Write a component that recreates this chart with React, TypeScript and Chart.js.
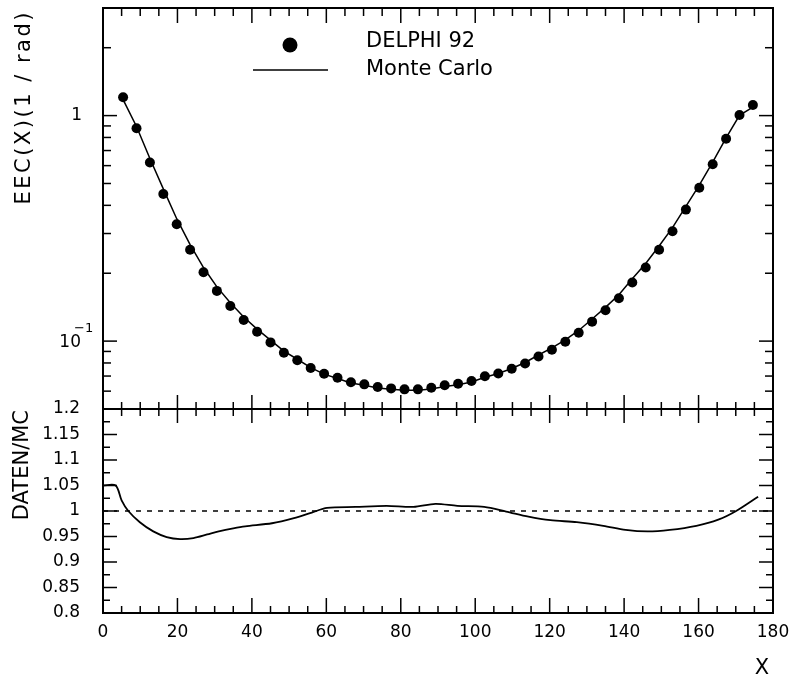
import React, { useEffect, useRef } from 'react';
import { Chart, registerables } from 'chart.js';

Chart.register(...registerables);

const FONT = '"DejaVu Sans", "Liberation Sans", sans-serif';

// ---- data ----
const xData = [5.4, 9.0, 12.6, 16.2, 19.8, 23.4, 27.0, 30.6, 34.2, 37.8, 41.4, 45.0, 48.6, 52.2, 55.8, 59.4, 63.0, 66.6, 70.2, 73.8, 77.4, 81.0, 84.6, 88.2, 91.8, 95.4, 99.0, 102.6, 106.2, 109.8, 113.4, 117.0, 120.6, 124.2, 127.8, 131.4, 135.0, 138.6, 142.2, 145.8, 149.4, 153.0, 156.6, 160.2, 163.8, 167.4, 171.0, 174.6];

const eecData = [1.205, 0.879, 0.619, 0.449, 0.330, 0.254, 0.202, 0.167, 0.143, 0.124, 0.110, 0.0987, 0.0888, 0.0822, 0.0760, 0.0717, 0.0688, 0.0657, 0.0643, 0.0626, 0.0617, 0.0611, 0.0611, 0.0621, 0.0637, 0.0647, 0.0665, 0.0698, 0.0719, 0.0754, 0.0796, 0.0855, 0.0916, 0.0993, 0.109, 0.122, 0.137, 0.155, 0.182, 0.212, 0.254, 0.307, 0.383, 0.479, 0.609, 0.789, 1.007, 1.115];

const mcData = [1.177, 0.895, 0.645, 0.473, 0.349, 0.268, 0.212, 0.174, 0.148, 0.128, 0.113, 0.101, 0.0903, 0.0831, 0.0763, 0.0714, 0.0683, 0.0652, 0.0637, 0.0620, 0.0611, 0.0606, 0.0606, 0.0614, 0.0629, 0.0641, 0.0659, 0.0692, 0.0718, 0.0756, 0.0804, 0.0868, 0.0933, 0.1013, 0.1115, 0.1253, 0.1412, 0.1606, 0.1892, 0.2208, 0.2643, 0.3185, 0.3957, 0.4913, 0.6214, 0.797, 1.003, 1.090];

const ratioX = [0, 3.4, 5.0, 6.8, 9.9, 13.5, 17.1, 20.7, 24.3, 28.0, 31.1, 35.0, 38.2, 45.4, 51.3, 56.1, 60.2, 67.9, 76.2, 83.4, 89.3, 95.2, 102.4, 108.3, 114.3, 120.2, 127.3, 134.4, 140.4, 146.3, 152.3, 159.4, 165.3, 170.1, 176.0];
const ratioY = [1.05, 1.05, 1.021, 1.0, 0.978, 0.960, 0.949, 0.945, 0.947, 0.954, 0.960, 0.966, 0.970, 0.976, 0.986, 0.997, 1.006, 1.008, 1.010, 1.008, 1.014, 1.010, 1.008, 0.999, 0.989, 0.982, 0.978, 0.971, 0.963, 0.960, 0.963, 0.971, 0.983, 1.000, 1.028];

const refX = [0, 180];
const refY = [1, 1];

const xTickVals = Array.from({ length: 37 }, (_, i) => i * 5);
const logTickVals = [0.05, 0.06, 0.07, 0.08, 0.09, 0.1, 0.2, 0.3, 0.4, 0.5, 0.6, 0.7, 0.8, 0.9, 1, 2, 3];
const ratioTickVals = Array.from({ length: 17 }, (_, i) => 0.8 + 0.025 * i);

const legendLabels = ['DELPHI 92', 'Monte Carlo'];
const yTitleTop = 'EEC(X)(1 / rad)';
const yTitleBottom = 'DATEN/MC';
const xTitle = 'X';
const decadeLabel = { value: 0.1, base: '10', exp: '\u22121' };

const toXY = (xs: number[], ys: number[]) => xs.map((x, i) => ({ x, y: ys[i] }));

const near = (a: number, b: number) => Math.abs(a - b) < 1e-9;

const framePlugin = {
  id: 'hbookFrame',
  afterDraw(chart: any) {
    const { ctx, chartArea: ca, scales } = chart;
    const xs = scales.x;
    const yt = scales.y;
    const yr = scales.yr;
    const top = yt.top;
    const mid = yr.top;
    const bot = yr.bottom;
    const L = ca.left;
    const R = ca.right;
    ctx.save();
    ctx.strokeStyle = '#000';
    ctx.fillStyle = '#000';
    const line = (x1: number, y1: number, x2: number, y2: number) => {
      ctx.beginPath();
      ctx.moveTo(x1, y1);
      ctx.lineTo(x2, y2);
      ctx.stroke();
    };
    ctx.lineWidth = 1.5;
    // x ticks
    for (const v of xTickVals) {
      const px = xs.getPixelForValue(v);
      const major = v % 20 === 0;
      line(px, top, px, top + (major ? 15 : 8));
      line(px, mid - (major ? 14 : 7), px, mid + (major ? 14 : 7));
      line(px, bot, px, bot - (major ? 15 : 7));
    }
    // log ticks
    for (const v of logTickVals) {
      const py = yt.getPixelForValue(v);
      const major = near(v, 0.1) || near(v, 1);
      const len = major ? 14 : 8;
      line(L, py, L + len, py);
      line(R, py, R - len, py);
    }
    // ratio ticks
    for (const v of ratioTickVals) {
      const py = yr.getPixelForValue(v);
      const major = Math.round(v * 1000) % 50 === 0;
      const len = major ? 14 : 7;
      line(L, py, L + len, py);
      line(R, py, R - len, py);
    }
    // frame
    ctx.lineWidth = 2;
    ctx.strokeRect(L, top, R - L, bot - top);
    line(L, mid, R, mid);

    // decade label with superscript exponent
    const dy = yt.getPixelForValue(decadeLabel.value);
    ctx.textBaseline = 'middle';
    ctx.textAlign = 'right';
    ctx.font = `17px ${FONT}`;
    ctx.fillText(decadeLabel.base, 81, dy + 1);
    ctx.textAlign = 'left';
    ctx.font = `13px ${FONT}`;
    ctx.fillText(decadeLabel.exp, 74, dy - 12);

    // legend
    const ds0 = chart.data.datasets[0];
    const ds1 = chart.data.datasets[1];
    ctx.fillStyle = ds0.pointBackgroundColor;
    ctx.beginPath();
    ctx.arc(290, 45, 7.5, 0, Math.PI * 2);
    ctx.fill();
    ctx.strokeStyle = ds1.borderColor;
    ctx.lineWidth = 1.5;
    line(253, 70, 328, 70);
    ctx.fillStyle = '#000';
    ctx.font = `21px ${FONT}`;
    ctx.textAlign = 'left';
    ctx.textBaseline = 'middle';
    ctx.fillText(legendLabels[0], 366, 42);
    ctx.fillText(legendLabels[1], 366, 70);

    // axis titles
    ctx.save();
    ctx.translate(25, 10);
    ctx.rotate(-Math.PI / 2);
    ctx.textAlign = 'right';
    (ctx as any).letterSpacing = '2.5px';
    ctx.fillText(yTitleTop, 0, 0);
    ctx.restore();

    ctx.save();
    ctx.translate(23, mid + 1);
    ctx.rotate(-Math.PI / 2);
    ctx.textAlign = 'right';
    ctx.fillText(yTitleBottom, 0, 0);
    ctx.restore();

    ctx.textAlign = 'center';
    ctx.fillText(xTitle, 762, 669);
    ctx.restore();
  },
};

export default function App() {
  const ref = useRef<HTMLCanvasElement>(null);
  useEffect(() => {
    if (!ref.current) return;
    const tickFont = { family: FONT, size: 17 };
    const chart = new Chart(ref.current, {
      type: 'scatter',
      data: {
        datasets: [
          {
            label: legendLabels[0],
            data: toXY(xData, eecData),
            yAxisID: 'y',
            showLine: false,
            pointRadius: 5,
            pointBorderWidth: 0,
            pointBackgroundColor: '#000',
            pointBorderColor: '#000',
          },
          {
            label: legendLabels[1],
            data: toXY(xData, mcData),
            yAxisID: 'y',
            showLine: true,
            pointRadius: 0,
            borderWidth: 1.5,
            borderColor: '#000',
            tension: 0,
          },
          {
            label: 'ratio',
            data: toXY(ratioX, ratioY),
            yAxisID: 'yr',
            showLine: true,
            pointRadius: 0,
            borderWidth: 1.8,
            borderColor: '#000',
            tension: 0.3,
          },
          {
            label: 'one',
            data: toXY(refX, refY),
            yAxisID: 'yr',
            showLine: true,
            pointRadius: 0,
            borderWidth: 1.5,
            borderColor: '#000',
            borderDash: [5, 6],
          },
        ],
      },
      options: {
        animation: false,
        responsive: false,
        devicePixelRatio: 1,
        layout: { padding: { top: 8, right: 16, left: 0, bottom: 0 } },
        plugins: { legend: { display: false }, tooltip: { enabled: false } },
        scales: {
          x: {
            type: 'linear',
            position: 'bottom',
            min: 0,
            max: 180,
            grid: { display: false, drawTicks: false },
            border: { display: false },
            ticks: {
              stepSize: 5,
              autoSkip: false,
              maxRotation: 0,
              padding: 9,
              color: '#000',
              font: tickFont,
              callback: (v: any) => (Math.round(v) % 20 === 0 ? String(Math.round(v)) : ''),
            },
            afterFit: (s: any) => {
              s.height = 66;
              s.paddingLeft = 0;
              s.paddingRight = 0;
            },
          },
          y: {
            type: 'logarithmic',
            position: 'left',
            stack: 'panels',
            stackWeight: 401,
            weight: 1,
            min: 0.05,
            max: 3,
            grid: { display: false, drawTicks: false },
            border: { display: false },
            ticks: {
              autoSkip: false,
              padding: 21,
              color: '#000',
              font: tickFont,
              callback: (v: any) => (near(v, 1) ? '1' : ''),
            },
            afterFit: (s: any) => {
              s.width = 103;
              s.paddingTop = 0;
              s.paddingBottom = 0;
            },
          },
          yr: {
            type: 'linear',
            position: 'left',
            stack: 'panels',
            stackWeight: 204,
            weight: 0,
            min: 0.8,
            max: 1.2,
            grid: { display: false, drawTicks: false },
            border: { display: false },
            ticks: {
              stepSize: 0.025,
              autoSkip: false,
              padding: 23,
              color: '#000',
              font: tickFont,
              callback: (v: any) => {
                const r = Math.round(v * 1000);
                return r % 50 === 0 ? String(r / 1000) : '';
              },
            },
            afterFit: (s: any) => {
              s.width = 103;
              s.paddingTop = 0;
              s.paddingBottom = 0;
            },
          },
        },
      },
      plugins: [framePlugin],
    } as any);
    return () => chart.destroy();
  }, []);
  return (
    <canvas
      ref={ref}
      width={789}
      height={679}
      style={{ position: 'absolute', left: 0, top: 0, display: 'block' }}
    />
  );
}
